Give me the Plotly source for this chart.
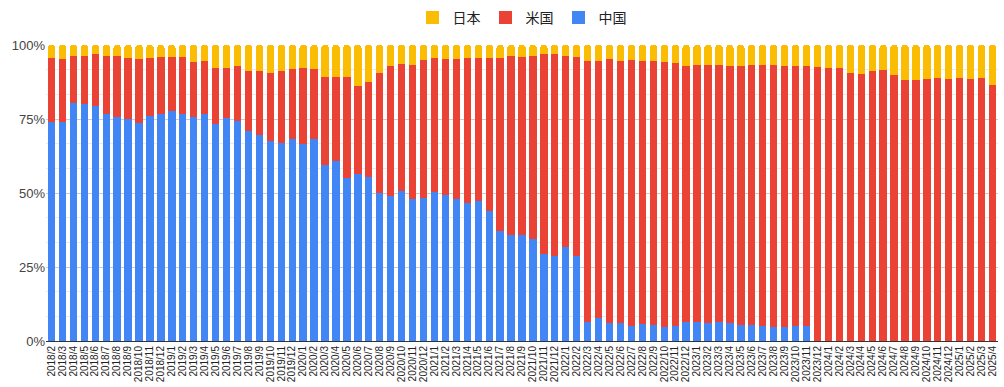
import plotly.graph_objects as go

months = [
    "2018/2", "2018/3", "2018/4", "2018/5", "2018/6", "2018/7", "2018/8", "2018/9", "2018/10", "2018/11", "2018/12",
    "2019/1", "2019/2", "2019/3", "2019/4", "2019/5", "2019/6", "2019/7", "2019/8", "2019/9", "2019/10", "2019/11", "2019/12",
    "2020/1", "2020/2", "2020/3", "2020/4", "2020/5", "2020/6", "2020/7", "2020/8", "2020/9", "2020/10", "2020/11", "2020/12",
    "2021/1", "2021/2", "2021/3", "2021/4", "2021/5", "2021/6", "2021/7", "2021/8", "2021/9", "2021/10", "2021/11", "2021/12",
    "2022/1", "2022/2", "2022/3", "2022/4", "2022/5", "2022/6", "2022/7", "2022/8", "2022/9", "2022/10", "2022/11", "2022/12",
    "2023/1", "2023/2", "2023/3", "2023/4", "2023/5", "2023/6", "2023/7", "2023/8", "2023/9", "2023/10", "2023/11", "2023/12",
    "2024/1", "2024/2", "2024/3", "2024/4", "2024/5", "2024/6", "2024/7", "2024/8", "2024/9", "2024/10", "2024/11", "2024/12",
    "2025/1", "2025/2", "2025/3", "2025/4",
]

china = [
    74.1, 74.1, 80.5, 80.2, 79.4, 76.7, 75.6, 74.9, 73.6, 76.0, 76.7,
    77.8, 76.7, 75.6, 76.7, 73.3, 75.2, 74.4, 71.1, 69.5, 67.6, 66.8, 68.1,
    66.4, 68.4, 59.6, 60.7, 55.1, 56.4, 55.3, 50.0, 48.9, 50.7, 48.1, 48.4,
    50.3, 49.2, 48.0, 46.6, 47.3, 43.8, 37.0, 35.9, 35.9, 34.3, 29.4, 28.6,
    31.8, 28.6, 6.5, 7.8, 6.2, 6.2, 5.1, 5.9, 5.4, 4.7, 5.1, 6.5,
    6.5, 6.2, 6.5, 6.1, 5.4, 5.4, 5.1, 4.6, 4.6, 5.1, 5.1, 0,
    0, 0, 0, 0, 0, 0, 0, 0, 0, 0, 0, 0,
    0, 0, 0, 0,
]

usa = [
    21.4, 21.1, 15.9, 16.2, 17.4, 19.7, 20.8, 20.6, 21.6, 19.5, 19.2,
    18.1, 19.2, 18.7, 17.9, 18.8, 16.9, 18.5, 20.0, 21.6, 23.1, 24.3, 23.7,
    25.7, 23.4, 29.5, 28.4, 34.0, 29.6, 32.3, 40.7, 44.0, 43.0, 45.3, 46.5,
    45.2, 46.0, 47.2, 48.9, 48.2, 51.7, 58.5, 60.5, 60.0, 62.1, 67.4, 68.2,
    64.6, 67.3, 88.1, 86.8, 89.0, 88.4, 89.8, 88.7, 89.2, 89.6, 88.7, 86.5,
    86.9, 87.2, 86.9, 86.9, 87.6, 88.0, 88.3, 88.8, 88.4, 87.9, 87.9, 92.6,
    92.2, 92.2, 90.7, 90.3, 91.2, 91.6, 89.9, 88.1, 88.1, 88.5, 88.9, 88.5,
    88.9, 88.5, 88.9, 86.5,
]

japan = [
    4.5, 4.8, 3.6, 3.6, 3.2, 3.6, 3.6, 4.5, 4.8, 4.5, 4.1,
    4.1, 4.1, 5.7, 5.4, 7.9, 7.9, 7.1, 8.9, 8.9, 9.3, 8.9, 8.2,
    7.9, 8.2, 10.9, 10.9, 10.9, 14.0, 12.4, 9.3, 7.1, 6.3, 6.6, 5.1,
    4.5, 4.8, 4.8, 4.5, 4.5, 4.5, 4.5, 3.6, 4.1, 3.6, 3.2, 3.2,
    3.6, 4.1, 5.4, 5.4, 4.8, 5.4, 5.1, 5.4, 5.4, 5.7, 6.2, 7.0,
    6.6, 6.6, 6.6, 7.0, 7.0, 6.6, 6.6, 6.6, 7.0, 7.0, 7.0, 7.4,
    7.8, 7.8, 9.3, 9.7, 8.8, 8.4, 10.1, 11.9, 11.9, 11.5, 11.1, 11.5,
    11.1, 11.5, 11.1, 13.5,
]

series = [("中国", china, "#4285F4"), ("米国", usa, "#EA4335"), ("日本", japan, "#FBBC04")]

fig = go.Figure()
for name, vals, color in series:
    fig.add_trace(go.Bar(x=months, y=vals, name=name, showlegend=False,
                         marker=dict(color=color, line=dict(width=0))))
# legend entries with square swatches (日本, 米国, 中国 order)
for name, vals, color in reversed(series):
    fig.add_trace(go.Scatter(x=[None], y=[None], mode="markers", name=name,
                             marker=dict(symbol="square", size=13, color=color)))

fig.update_layout(
    width=1004, height=387,
    margin=dict(l=46, r=6, t=45, b=46, autoexpand=False),
    barmode="stack",
    barnorm="percent",
    bargap=0.33,
    barcornerradius=3,
    plot_bgcolor="white",
    paper_bgcolor="white",
    font=dict(family="Arial, Liberation Sans, Noto Sans CJK JP", color="#222"),
    legend=dict(orientation="h", x=0.5, xanchor="center", y=0.995, yanchor="top",
                yref="container", itemwidth=30, traceorder="normal",
                font=dict(size=14, family="Noto Sans CJK JP", color="#222")),
    showlegend=True,
)
fig.update_xaxes(type="category", tickmode="linear", dtick=1, tickangle=-90,
                 tickfont=dict(size=10, color="#222"), automargin=False,
                 showline=True, linecolor="#333", linewidth=1, ticks="", showgrid=False)
fig.update_yaxes(range=[0, 100], dtick=25, ticksuffix="%", tickfont=dict(size=13, color="#444"),
                 gridcolor="#cccccc", zeroline=False, automargin=False,
                 minor=dict(dtick=100/12, showgrid=True, gridcolor="#ebebeb"))

fig.write_html("out.html", config={"displayModeBar": False},
               post_script="document.body.style.margin='0';document.body.style.overflow='hidden';")
